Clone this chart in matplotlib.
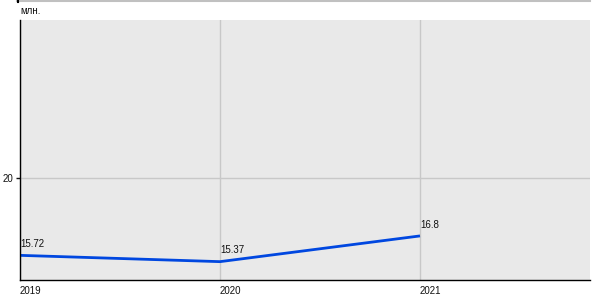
import matplotlib
matplotlib.use("Agg")
import matplotlib.pyplot as plt
from matplotlib.lines import Line2D

years = [2019, 2020, 2021]
values = [15.72, 15.37, 16.8]
labels = ["15.72", "15.37", "16.8"]
yticks = [20]

plt.rcParams['font.family'] = ['Liberation Sans', 'DejaVu Sans']

fig = plt.figure(figsize=(6, 3), dpi=100)
ax = fig.add_axes([20/600, 20/300, 570/600, 260/300])
ax.set_facecolor("#e9e9e9")

ax.plot(years, values, color="#0047e0", linewidth=2, solid_capstyle="butt")
for x, y, t in zip(years, values, labels):
    ax.text(x, y + 0.35, t, fontsize=7, ha="left", va="bottom", color="#111111")

ax.set_xlim(2019, 2021.85)
ax.set_ylim(14.35, 28.8)
ax.set_xticks(years)
ax.set_xticklabels([str(y) for y in years], ha="left")
ax.set_yticks(yticks)
ax.tick_params(axis="both", labelsize=7, length=3, width=1, color="#111111", labelcolor="#111111")
ax.tick_params(axis="y", pad=1.5)
ax.tick_params(axis="x", length=0, pad=4)
ax.grid(color="#c8c8c8", linewidth=1)
ax.set_axisbelow(True)
for s in ["top", "right"]:
    ax.spines[s].set_visible(False)
for s in ["left", "bottom"]:
    ax.spines[s].set_color("black")
    ax.spines[s].set_linewidth(1)

fig.text(20/600, 1 - 11/300, "млн.", fontsize=7, ha="left", va="center", color="#111111")
fig.add_artist(Line2D([17/600, 590/600], [0.998, 0.998], color="#c0c0c0", linewidth=1.5))
fig.add_artist(Line2D([18/600, 18/600], [0.993, 1.0], color="black", linewidth=1.5))

fig.savefig("out.png", dpi=100)
